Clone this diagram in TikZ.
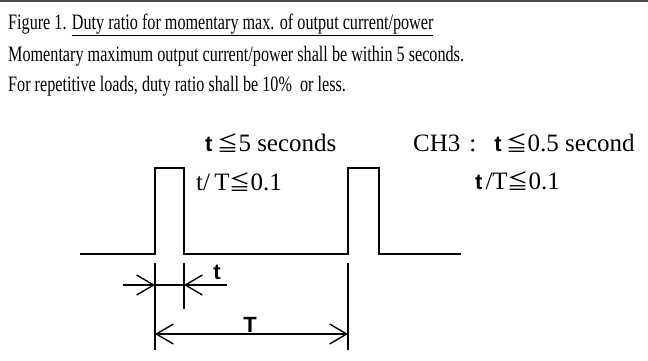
\documentclass[tikz,border=0pt]{standalone}
\usepackage{fontspec}
\setmainfont{Liberation Serif}[FakeStretch=0.735]
\newfontfamily\lserif{Liberation Serif}
\newfontfamily\sansb{Liberation Sans Bold}
\newfontfamily\cjk{Noto Sans CJK JP}
\newcommand{\myleq}{{\cjk\fontsize{21}{22}\selectfont ≦}}
\newcommand{\tsans}{{\sansb\fontsize{22}{24}\selectfont t}}
\usetikzlibrary{arrows.meta}
\begin{document}
\begin{tikzpicture}[x=1pt,y=-1pt,
  txt/.style={inner sep=0pt,anchor=base west,font=\fontsize{22}{24}\selectfont},
  lbl/.style={inner sep=0pt,anchor=base west,font=\lserif\fontsize{25}{28}\selectfont},
  dimlbl/.style={inner sep=0pt,anchor=base,font=\sansb\fontsize{22}{24}\selectfont},
  wave/.style={line width=1.4pt,line join=miter},
  ext/.style={line width=1.4pt},
  barb/.tip={Straight Barb[length=17pt,width=20pt,line width=1.4pt]},
  dim/.style={line width=1.4pt,barb-barb},
  dimr/.style={line width=1.4pt,-barb},
  topline/.style={line width=1.5pt,draw=black!70}]
\useasboundingbox (0,0) rectangle (648,360);
\coordinate (tl) at (0,1);
\coordinate (tr) at (648,1);
\draw[topline] (tl) -- (tr);
% texts
\node[txt] (l1) at (8,29) {Figure 1. \underline{Duty ratio for momentary max. of output current/power}};
\node[txt] (l2) at (8,61) {Momentary maximum output current/power shall be within 5 seconds.};
\node[txt] (l3) at (8,91) {For repetitive loads, duty ratio shall be 10\%\ \ or less.};
\node[lbl] (a1) at (205,151) {\tsans\hspace{5pt}\myleq5 seconds};
\node[lbl] (a2) at (196,190) {t/\,T\myleq0.1};
\node[lbl] (b1) at (413,151) {CH3\hspace{9pt}:\hspace{18pt}\tsans\hspace{5pt}\myleq0.5 second};
\node[lbl] (b2) at (475,189) {\tsans\hspace{3pt}/T\myleq0.1};
% waveform
\coordinate (w0) at (80,254);
\coordinate (r1) at (155,254);
\coordinate (r1h) at (155,168);
\coordinate (f1h) at (184,168);
\coordinate (f1) at (184,254);
\coordinate (r2) at (348,254);
\coordinate (r2h) at (348,168);
\coordinate (f2h) at (379,168);
\coordinate (f2) at (379,254);
\coordinate (w1) at (461,254);
\draw[wave] (w0) -- (r1) -- (r1h) -- (f1h) -- (f1) -- (r2) -- (r2h) -- (f2h) -- (f2) -- (w1);
% extension lines
\coordinate (e1a) at (155,263); \coordinate (e1b) at (155,350);
\coordinate (e2a) at (184,263); \coordinate (e2b) at (184,309);
\coordinate (e3a) at (348,263); \coordinate (e3b) at (348,350);
\draw[ext] (e1a) -- (e1b);
\draw[ext] (e2a) -- (e2b);
\draw[ext] (e3a) -- (e3b);
% t dimension
\coordinate (ta) at (123,285); \coordinate (tb) at (155,285);
\coordinate (tc) at (227,285); \coordinate (td) at (184,285);
\draw[dimr] (ta) -- (tb);
\draw[dimr] (tc) -- (td);
\draw[ext] (tb) -- (td);
\node[dimlbl] (tl1) at (217,279) {t};
% T dimension
\coordinate (Ta) at (155,334); \coordinate (Tb) at (348,334);
\draw[dim] (Ta) -- (Tb);
\node[dimlbl] (Tl) at (250,332) {T};
\end{tikzpicture}
\end{document}
